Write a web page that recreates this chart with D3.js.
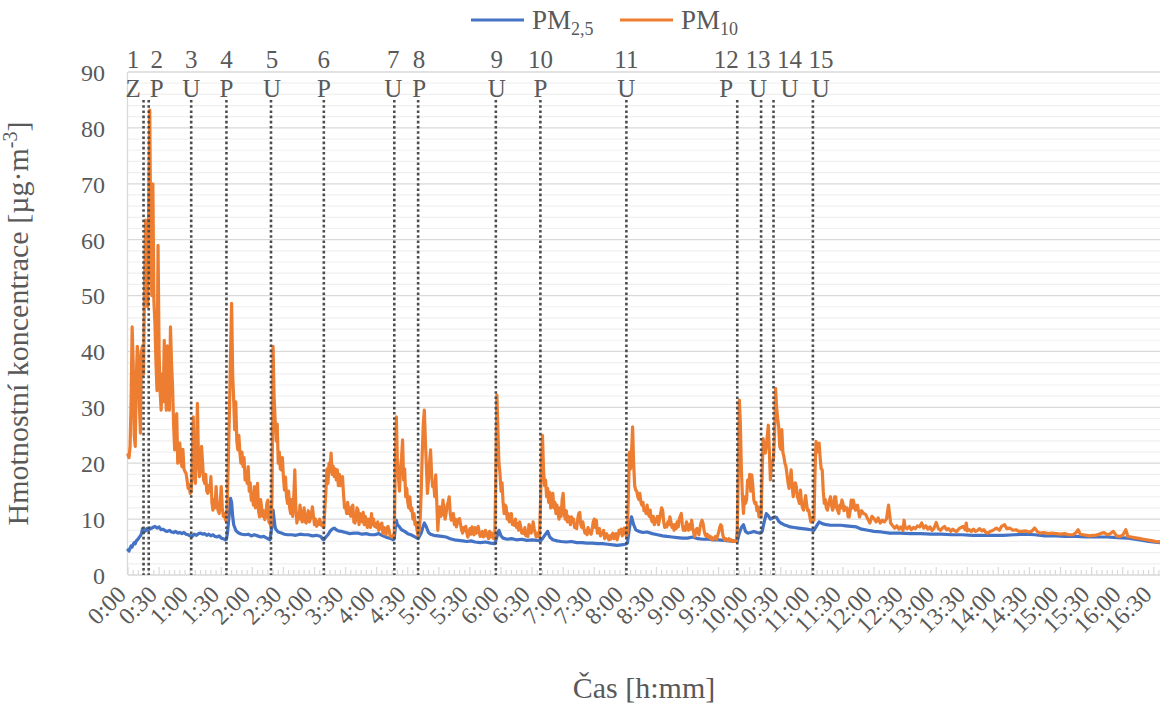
<!DOCTYPE html>
<html>
<head>
<meta charset="utf-8">
<script src="https://cdn.jsdelivr.net/npm/d3@7/dist/d3.min.js"></script>
</head>
<body style="margin:0;background:#fff">
<svg id="chart" width="1160" height="703" font-family="'Liberation Serif'" style="display:block"></svg>
<script>
// Measurement events: time (minutes from start), number and type code
const eventMinutes = [15, 20, 61, 95, 138, 189, 257, 280, 355, 398, 481, 588, 611, 623, 661];
const eventNumbers = ["1","2","3","4","5","6","7","8","9","10","11","12","13","14","15"];
const eventCodes   = ["Z","P","U","P","U","P","U","P","U","P","U","P","U","U","U"];

// Axis ticks
const timeTicks = d3.range(0, 991, 30);        // 0:00 … 16:30
const valueTicks = d3.range(0, 91, 10);        // 0 … 90 µg·m-3

// PM2.5 concentration [minute, µg·m-3]
const pm25 = [
  [0,4.5],[1,4.3],[2,4.8],[3,5.2],[4,5.0],[5,5.5],[6,5.8],[7,5.6],[8,6.1],[9,6.3],[10,6.5],[11,6.8],[12,7.0],[13,7.4],[14,8.3],[15,7.6],
  [16,7.8],[17,7.9],[18,8.3],[19,8.1],[20,8.0],[21,8.4],[22,8.3],[24,8.5],[26,8.7],[28,8.4],[30,8.6],[32,8.1],[34,8.2],[36,7.9],[38,7.8],
  [40,8.0],[42,7.7],[44,7.6],[46,7.8],[48,7.5],[50,7.6],[52,7.4],[54,7.6],[56,7.3],[58,7.2],[60,7.0],[62,6.9],[64,7.3],[66,7.1],[68,7.4],
  [70,7.5],[72,7.3],[74,7.4],[76,7.1],[78,7.3],[80,7.0],[82,7.2],[84,6.9],[86,6.8],[88,7.0],[90,6.6],[92,6.5],[94,6.3],[95,6.4],[96,7.5],
  [97,9.5],[98,11.5],[99,13.7],[100,13.0],[101,10.5],[102,9.0],[103,8.5],[104,8.0],[106,7.6],[108,7.4],[110,7.3],[113,7.2],[116,7.3],
  [119,7.0],[122,7.2],[125,7.0],[128,6.8],[131,6.9],[134,6.6],[136,6.4],[137,6.3],[138,7.5],[139,9.0],[140,11.6],[141,10.0],[142,8.5],
  [143,8.1],[145,7.7],[148,7.5],[151,7.3],[154,7.2],[158,7.2],[162,7.1],[166,7.3],[170,7.2],[174,7.2],[178,7.0],[182,7.1],[186,6.9],
  [188,6.4],[189,6.3],[191,6.8],[193,7.2],[195,7.8],[197,8.2],[199,8.4],[201,8.1],[203,7.9],[206,7.8],[210,7.6],[214,7.4],[218,7.5],
  [222,7.5],[226,7.3],[230,7.4],[234,7.2],[238,7.2],[242,7.4],[246,7.0],[250,6.7],[254,6.5],[256,6.3],[257,6.5],[258,8.5],[259,9.8],
  [260,9.0],[262,8.6],[264,8.1],[267,7.8],[270,7.4],[273,7.2],[276,6.9],[279,6.6],[280,6.5],[283,7.5],[285,8.8],[286,9.3],[288,8.6],
  [290,7.6],[292,7.3],[295,7.1],[299,7.0],[303,6.9],[307,6.8],[311,6.5],[315,6.3],[319,6.2],[323,6.1],[327,6.0],[331,6.1],[335,5.9],
  [340,5.8],[345,5.9],[350,5.7],[354,5.6],[356,6.8],[358,8.0],[360,7.0],[362,6.6],[366,6.4],[370,6.5],[375,6.3],[380,6.4],[385,6.2],
  [390,6.3],[395,6.2],[398,6.1],[400,6.5],[403,7.3],[405,7.8],[407,6.8],[410,6.3],[414,6.1],[418,6.0],[423,5.9],[428,6.0],[433,5.8],
  [438,5.8],[443,5.7],[448,5.7],[453,5.6],[458,5.6],[463,5.5],[468,5.4],[472,5.3],[476,5.4],[480,5.5],[482,5.7],[484,8.5],[486,10.4],
  [488,9.0],[490,8.1],[493,7.8],[497,7.6],[501,7.7],[506,7.4],[511,7.2],[516,7.0],[520,6.9],[525,6.8],[530,6.7],[535,6.6],[540,6.6],
  [545,6.8],[550,6.5],[555,6.4],[560,6.4],[565,6.3],[570,6.3],[575,6.2],[580,6.1],[585,6.0],[588,6.0],[590,7.5],[592,8.5],[594,9.0],
  [596,7.8],[598,7.5],[601,7.6],[604,7.8],[607,7.6],[610,7.5],[612,7.8],[614,9.5],[616,11.0],[618,10.6],[620,10.0],[622,10.2],
  [624,10.4],[626,10.3],[628,9.6],[630,9.3],[633,9.0],[636,8.8],[639,8.6],[643,8.5],[647,8.4],[651,8.3],[655,8.2],[659,8.1],[662,8.0],
  [664,8.6],[667,9.5],[670,9.2],[674,9.0],[678,8.9],[683,8.9],[688,8.9],[693,8.8],[698,8.7],[703,8.6],[708,8.2],[714,8.0],[720,7.8],
  [727,7.7],[735,7.5],[745,7.5],[755,7.4],[765,7.4],[775,7.3],[785,7.3],[795,7.2],[805,7.2],[815,7.1],[825,7.1],[835,7.1],[845,7.1],
  [855,7.2],[865,7.3],[875,7.2],[885,7.0],[895,7.0],[905,6.9],[915,6.9],[925,6.8],[935,6.8],[945,6.8],[955,6.7],[965,6.6],[975,6.3],
  [985,6.0],[996,5.8]
];

// PM10 concentration [minute, µg·m-3]
const pm10 = [
  [0,21.5],[1,21],[2,23],[3,31],[4,44.4],[5,38],[6,25],[7,23],[8,35],[9,40.9],[10,39],[11,30],[12,25.4],[13,40],[14,41],[15,36],
  [16,52],[17,63.5],[18,61],[19,48],[20,66],[21,83.2],[22,58],[23,50],[24,70],[25,49],[26,45],[27,38],[28,33],[29,59],[30,40],
  [31,33],[32,29.5],[33,36],[34,31],[35,42],[36,34],[37,29.5],[38,41],[39,33],[40,29.5],[41,44.4],[42,38],[43,33.7],[44,27],[45,22.4],
  [46,26],[47,28.9],[48,20],[49,21.5],[50,23.6],[51,20.5],[52,19.4],[53,22.5],[54,19],[55,18.5],[56,18.2],[57,17],[58,15.5],[59,16.2],
  [60,14.6],[61,14.8],[62,20],[63,28.3],[64,18],[65,16.4],[66,22],[67,30.7],[68,21],[69,17.6],[70,19],[71,23],[72,20],[73,17],
  [74,16.4],[75,18],[76,15],[77,14.6],[78,16],[79,15],[80,17.6],[81,13],[82,11.6],[83,13.5],[84,12],[85,15.8],[86,12.5],[87,11.5],
  [88,11],[89,13],[90,15.8],[91,12],[92,10.5],[93,11],[94,10],[95,9.5],[96,14],[97,22],[98,30],[99,40],[100,48.6],[101,36],
  [102,31.3],[103,26],[104,31],[105,24],[106,22.4],[107,25],[108,21.8],[109,20],[110,22],[111,19.4],[112,21],[113,17],[114,18.5],
  [115,16.4],[116,19.4],[117,15],[118,16.5],[119,13.4],[120,14.5],[121,12.5],[122,15.8],[123,12],[124,14],[125,16.4],[126,11.5],
  [127,10.4],[128,13.5],[129,12],[130,10.5],[131,11.5],[132,9.9],[133,10.5],[134,12.8],[135,13.4],[136,9.5],[137,9.2],[138,8.7],
  [139,14],[140,40.9],[141,32],[142,27.7],[143,24],[144,27],[145,20],[146,22],[147,19],[148,18.8],[149,21],[150,17.5],[151,15.2],
  [152,17.5],[153,14],[154,12.8],[155,15],[156,12],[157,11],[158,13.5],[159,10.5],[160,14],[161,18.8],[162,12],[163,9.3],[164,11],
  [165,10],[166,12.5],[167,11],[168,9.5],[169,10.5],[170,12],[171,9.5],[172,9.3],[173,10.5],[174,11.5],[175,9.5],[176,10],[177,11],
  [178,12.2],[179,10.5],[180,9],[181,10],[182,8.7],[183,9.5],[184,9],[185,10],[186,9.3],[187,8.8],[188,9],[189,8.5],[190,12],
  [191,15],[192,19],[193,16.4],[194,20],[195,18.5],[196,21.8],[197,18],[198,19.5],[199,17.6],[200,19],[201,17],[202,18.8],[203,16],
  [204,18],[205,16],[206,17.5],[207,17.6],[208,14.5],[209,12],[210,12.5],[211,11],[212,13],[213,11],[214,12],[215,10.5],[216,12.2],
  [217,12.5],[218,9.5],[219,9.3],[220,10],[221,12],[222,11.6],[223,9],[224,11],[225,10],[226,9.5],[227,11.2],[228,9],[229,10.5],
  [230,9.5],[231,8.5],[232,10],[233,9.7],[234,8.5],[235,11],[236,9],[237,10],[238,8.7],[239,9.2],[240,8.5],[241,9.5],[242,8],
  [243,9],[244,8.3],[245,9.3],[246,7.5],[247,8.5],[248,8],[249,7.2],[250,8.5],[251,8.7],[252,8],[253,7],[254,6.9],[255,6.8],[256,7],
  [257,7.5],[258,20],[259,28.3],[260,20],[261,17.5],[262,15],[263,19],[264,21],[265,24.2],[266,17],[267,19],[268,14],[269,15.5],
  [270,13],[271,12],[272,14],[273,11.5],[274,12],[275,10],[276,11],[277,9],[278,9.5],[279,8],[280,7],[281,8],[282,10],[283,15],
  [284,22],[285,27],[286,29.5],[287,24],[288,19.4],[289,14.6],[290,17],[291,20],[292,22.4],[293,18],[294,15.8],[295,16.5],[296,14],
  [297,17.9],[298,13],[299,8],[300,11],[301,12.2],[302,10.5],[303,11],[304,13.4],[305,11.5],[306,10],[307,11],[308,12.5],[309,13],
  [310,14],[311,11],[312,9.8],[313,10.5],[314,11],[315,9],[316,10],[317,8.6],[318,9.5],[319,10],[320,10.1],[321,9],[322,8],
  [323,7.5],[324,8.5],[325,8],[326,8.7],[327,7.5],[328,6.8],[329,7.5],[330,8.3],[331,7.3],[332,8.6],[333,7.8],[334,7.2],[335,8.5],
  [336,7.5],[337,8],[338,8.7],[339,7.5],[340,6.9],[341,7.2],[342,7.8],[343,6.8],[344,7.4],[345,8],[346,7],[347,7.5],[348,6.5],
  [349,7.8],[350,6.8],[351,7.5],[352,7],[353,6.5],[354,6.8],[355,18],[356,32.2],[357,26],[358,20],[359,18.2],[360,15],[361,16.5],
  [362,13],[363,11],[364,12.5],[365,12.2],[366,10],[367,11],[368,9.5],[369,10.1],[370,11],[371,9],[372,9.5],[373,8.9],[374,10],
  [375,8.5],[376,9.2],[377,8],[378,9.5],[379,8.6],[380,7.5],[381,8],[382,7.4],[383,8.5],[384,7],[385,7.8],[386,6.9],[387,9],
  [388,8.7],[389,7.5],[390,8],[391,9.5],[392,8.3],[393,7.5],[394,6.8],[395,7.5],[396,7],[397,6.8],[398,12],[399,20],[400,25],
  [401,19],[402,16],[403,17],[404,14],[405,15.5],[406,13],[407,14.8],[408,12],[409,13.5],[410,14.6],[411,12],[412,13],[413,11],
  [414,12.5],[415,11],[416,10],[417,12],[418,10.5],[419,13.5],[420,14.6],[421,11],[422,10],[423,11.5],[424,9.5],[425,10.5],[426,10],
  [427,9],[428,10.4],[429,9.5],[430,10],[431,8.5],[432,9],[433,8.3],[434,10],[435,11],[436,11.2],[437,9],[438,8.5],[439,9.5],
  [440,8.3],[441,7.5],[442,8],[443,7.2],[444,8.5],[445,8],[446,7.5],[447,7.3],[448,8.2],[449,9.5],[450,10],[451,8.5],[452,9.8],
  [453,7.5],[454,7.8],[455,8.3],[456,7],[457,7.5],[458,7.4],[459,8],[460,6.5],[461,7],[462,7.4],[463,6.8],[464,6.3],[465,7],
  [466,6.4],[467,7.2],[468,7.5],[469,6.5],[470,6.8],[471,7.4],[472,6.3],[473,7],[474,8],[475,7.5],[476,8.2],[477,7],[478,7.8],
  [479,8.4],[480,7.5],[481,7],[482,7.5],[483,15],[484,22],[485,19],[486,22],[487,26.5],[488,20],[489,16],[490,15.2],[491,15],
  [492,14],[493,13.5],[494,14.6],[495,13],[496,12.5],[497,13],[498,11.5],[499,12],[500,11],[501,12.5],[502,11],[503,10.5],
  [504,11.6],[505,10],[506,9.5],[507,10.5],[508,9],[509,10],[510,9.5],[511,10.5],[512,9],[513,10],[514,11],[515,12],[516,11.6],
  [517,9.5],[518,8.5],[519,9],[520,8.6],[521,9.5],[522,9],[523,10.4],[524,9.5],[525,8.5],[526,9],[527,8],[528,9],[529,8.3],
  [530,9.5],[531,8.6],[532,10],[533,10.5],[534,11],[535,9],[536,8],[537,8.6],[538,8],[539,9.5],[540,8.9],[541,8],[542,9],
  [543,8.2],[544,9.8],[545,8.5],[546,7.5],[547,6.9],[548,7.8],[549,8.3],[550,8],[551,7.2],[552,8.5],[553,9.3],[554,9.8],[555,9.2],
  [556,8],[557,7.2],[558,6.9],[559,7.3],[560,6.8],[561,7],[562,6.5],[563,6.8],[564,6.3],[565,6.6],[566,6.5],[567,6.9],[568,6.4],
  [569,7],[570,7.6],[571,8.5],[572,9],[573,8.7],[574,7.2],[575,6.6],[576,6.2],[577,6.5],[578,6.3],[579,6.2],[580,6.5],[581,6.1],
  [582,6.3],[583,6],[584,6.2],[585,6],[586,6.1],[587,6],[588,8],[589,18],[590,31.3],[591,27],[592,18.8],[593,14],[594,11],
  [595,14],[596,12.8],[597,13.5],[598,17],[599,16],[600,18],[601,15],[602,17.9],[603,16],[604,13.4],[605,12.8],[606,13],[607,11.5],
  [608,12.2],[609,10.4],[610,11],[611,10.4],[612,18],[613,24.4],[614,22],[615,21.8],[616,23],[617,25],[618,26.8],[619,22],[620,17],
  [621,19.4],[622,20],[623,21],[624,25],[625,33.4],[626,30],[627,28],[628,26.5],[629,23],[630,22.5],[631,26],[632,22],[633,21.2],
  [634,20],[635,19.4],[636,18],[637,16.5],[638,15.5],[639,17],[640,18.8],[641,16],[642,14],[643,15.5],[644,16.5],[645,15.8],
  [646,14],[647,13.5],[648,12.8],[649,15.2],[650,13],[651,12],[652,11.6],[653,13],[654,14.2],[655,12.5],[656,11.5],[657,11.6],
  [658,10.5],[659,9.5],[660,10],[661,9.8],[662,9.8],[663,18],[664,23.9],[665,22],[666,23.5],[667,23.6],[668,21],[669,19],
  [670,18.8],[671,15],[672,12.8],[673,13.5],[674,12],[675,11.6],[676,12.5],[677,13.4],[678,14],[679,12.5],[680,11.6],[681,12.2],
  [682,14],[683,14],[684,12],[685,11.5],[686,11],[687,12.5],[688,12],[689,13.4],[690,12.8],[691,11.5],[692,12.2],[693,11.8],
  [694,12],[695,10.4],[696,10.4],[697,11.5],[698,13.4],[699,12],[700,13.4],[702,11.6],[704,12.5],[706,10.4],[708,11.5],[710,11],
  [712,10.8],[714,10],[716,9.3],[718,10.5],[720,10.1],[722,9.5],[724,10.2],[726,9.3],[728,9.8],[730,9.5],[732,10],[734,12.5],
  [736,9.3],[738,8.8],[740,8.4],[742,8.8],[744,8.2],[746,8.6],[748,8],[749,9.8],[750,8.5],[752,8.3],[754,8.7],[756,8.1],[758,8.5],
  [760,8.3],[762,8.8],[764,8.6],[766,9.3],[768,8.4],[770,8.8],[772,8.2],[774,8.6],[776,8],[778,8.4],[780,9.4],[782,8.3],[784,8],
  [786,8.4],[788,8.7],[790,8.1],[792,8.3],[794,7.8],[796,8.2],[798,7.9],[800,7.8],[802,8.3],[804,8.5],[806,8.7],[808,8.1],
  [809,9.3],[810,7.9],[812,8.1],[814,7.8],[816,8.2],[818,7.8],[820,8],[822,8.3],[824,7.9],[826,8.1],[828,7.6],[830,7.5],[832,7.8],
  [835,8],[838,8.4],[841,8],[843,8.7],[846,9],[848,8.3],[851,8.4],[854,8],[857,8.1],[860,7.8],[863,7.8],[866,7.9],[869,7.7],
  [872,7.8],[875,8.4],[878,7.7],[880,7.5],[884,7.6],[888,7.4],[892,7.5],[896,7.4],[900,7.3],[904,7.4],[908,7.2],[912,7.2],
  [915,7.6],[917,8.1],[919,7.3],[922,7.2],[925,7.1],[928,7],[931,7.1],[934,7.1],[937,7.3],[940,7.5],[942,7.6],[945,7.2],[948,7.4],
  [951,7.8],[954,7],[957,6.9],[960,7.1],[963,8.1],[965,6.9],[968,6.8],[971,6.7],[974,6.6],[977,6.5],[980,6.4],[983,6.3],[986,6.2],
  [989,6.1],[992,6],[995,5.9],[996,6]
];

// ---------- layout ----------
const plot = { left: 128, right: 1160, top: 72, bottom: 575 };
const blue = "#4472C4", orange = "#ED7D31";
const FONT = "'Liberation Serif'";
const INK = "#595959";
// horizontal nudges (px) that keep neighbouring event labels apart
const labelNudge = [-10.5, 8, 0, 0, 1, 0, -1, 1, 1, 0, 0, -11, -3, 16, 8];

const svg = d3.select("#chart");

// every text element gets the serif face and grey ink directly
function ink(sel, size) {
  return sel.attr("font-family", FONT).attr("fill", INK).attr("font-size", size);
}

const x = d3.scaleLinear().domain([0, 996]).range([plot.left, plot.right]);
const y = d3.scaleLinear().domain([0, 90]).range([plot.bottom, plot.top]);

// minor (every 2) and major (every 10) horizontal gridlines
const grid = svg.append("g");
grid.selectAll("line.minor")
  .data(d3.range(2, 90, 2).filter(v => v % 10 !== 0))
  .join("line").attr("class", "minor")
  .attr("x1", plot.left).attr("x2", plot.right)
  .attr("y1", d => y(d)).attr("y2", d => y(d))
  .attr("stroke", "#f0f0f0").attr("stroke-width", 1.2);
grid.selectAll("line.major")
  .data(valueTicks.filter(v => v > 0))
  .join("line").attr("class", "major")
  .attr("x1", plot.left).attr("x2", plot.right)
  .attr("y1", d => y(d)).attr("y2", d => y(d))
  .attr("stroke", "#d9d9d9").attr("stroke-width", 1.3);

// axis lines and small time ticks along the bottom
svg.append("line").attr("x1", plot.left - 0.5).attr("x2", plot.left - 0.5)
  .attr("y1", plot.top).attr("y2", plot.bottom)
  .attr("stroke", "#d9d9d9").attr("stroke-width", 1.3);
svg.append("line").attr("x1", plot.left).attr("x2", plot.right)
  .attr("y1", plot.bottom).attr("y2", plot.bottom)
  .attr("stroke", "#d9d9d9").attr("stroke-width", 1.3);
svg.append("g").selectAll("line")
  .data(d3.range(0, 997, 5))
  .join("line")
  .attr("x1", d => x(d)).attr("x2", d => x(d))
  .attr("y1", plot.bottom).attr("y2", d => plot.bottom - (d % 30 === 0 ? 8 : 5))
  .attr("stroke", "#d9d9d9").attr("stroke-width", 1.2);

// y axis labels
const yAxis = svg.append("g")
  .attr("transform", `translate(${plot.left},0)`)
  .call(d3.axisLeft(y).tickValues(valueTicks).tickSize(0).tickPadding(23))
  .attr("font-family", FONT);
yAxis.select(".domain").remove();
ink(yAxis.selectAll("text"), 24).attr("dy", "0.35em");

// x axis labels (h:mm), rotated
const fmt = m => `${Math.floor(m / 60)}:${String(m % 60).padStart(2, "0")}`;
const xAxis = svg.append("g")
  .attr("transform", `translate(0,${plot.bottom})`)
  .call(d3.axisBottom(x).tickValues(timeTicks).tickFormat(fmt).tickSize(0))
  .attr("font-family", FONT);
xAxis.select(".domain").remove();
ink(xAxis.selectAll("text"), 24)
  .attr("text-anchor", "end")
  .attr("x", 0).attr("y", 0).attr("dy", "0.35em")
  .attr("transform", "translate(-7,15) rotate(-45)");

// series
const line = d3.line().x(d => x(d[0])).y(d => y(d[1]));
svg.append("path").datum(pm25)
  .attr("d", line).attr("fill", "none")
  .attr("stroke", blue).attr("stroke-width", 3.2)
  .attr("stroke-linejoin", "round").attr("stroke-linecap", "round");
svg.append("path").datum(pm10)
  .attr("d", line).attr("fill", "none")
  .attr("stroke", orange).attr("stroke-width", 3.2)
  .attr("stroke-linejoin", "round").attr("stroke-linecap", "round");

// event markers
const ev = svg.append("g");
ev.selectAll("line")
  .data(eventMinutes)
  .join("line")
  .attr("x1", d => x(d)).attr("x2", d => x(d))
  .attr("y1", 100).attr("y2", plot.bottom)
  .attr("stroke", "#4d4d4d").attr("stroke-width", 2.6)
  .attr("stroke-dasharray", "2.6 2.6");
ink(ev.selectAll("text.num")
  .data(eventMinutes)
  .join("text").attr("class", "num"), 25)
  .attr("x", (d, i) => x(d) + labelNudge[i]).attr("y", 68)
  .attr("text-anchor", "middle")
  .text((d, i) => eventNumbers[i]);
ink(ev.selectAll("text.code")
  .data(eventMinutes)
  .join("text").attr("class", "code"), 25)
  .attr("x", (d, i) => x(d) + labelNudge[i]).attr("y", 97)
  .attr("text-anchor", "middle")
  .text((d, i) => eventCodes[i]);

// legend
const legend = svg.append("g");
const legendItems = [
  { color: blue, main: "PM", sub: "2,5", x0: 471 },
  { color: orange, main: "PM", sub: "10", x0: 620 }
];
legendItems.forEach(it => {
  legend.append("line")
    .attr("x1", it.x0).attr("x2", it.x0 + 53)
    .attr("y1", 20).attr("y2", 20)
    .attr("stroke", it.color).attr("stroke-width", 3.2);
  const t = ink(legend.append("text"), 27)
    .attr("x", it.x0 + 61).attr("y", 29);
  t.append("tspan").text(it.main);
  t.append("tspan").attr("dy", 6).attr("font-size", 18).text(it.sub);
});

// axis titles
const yTitle = ink(svg.append("text"), 30)
  .attr("transform", `translate(28,${(plot.top + plot.bottom) / 2}) rotate(-90)`)
  .attr("text-anchor", "middle");
yTitle.append("tspan").text("Hmotnostní koncentrace [µg·m");
yTitle.append("tspan").attr("dy", -11).attr("font-size", 20).text("-3");
yTitle.append("tspan").attr("dy", 11).text("]");

ink(svg.append("text"), 30)
  .attr("x", (plot.left + plot.right) / 2).attr("y", 698)
  .attr("text-anchor", "middle")
  .text("Čas [h:mm]");
</script>
</body>
</html>
